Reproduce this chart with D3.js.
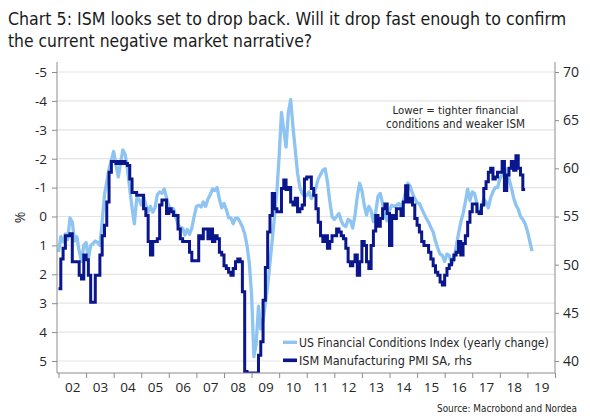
<!DOCTYPE html>
<html><head><meta charset="utf-8">
<script src="https://cdn.jsdelivr.net/npm/d3@7"></script>
<style>
html,body{margin:0;padding:0;background:#fff;}
svg{display:block;font-family:Lato,"Open Sans",sans-serif;}
</style></head><body>
<svg id="chart" width="590" height="418"></svg>
<script>
// ---------------- data ----------------
const titleLines = ["Chart 5: ISM looks set to drop back. Will it drop fast enough to confirm",
                    "the current negative market narrative?"];
const startYear = 2002; // monthly series start (Jan 2002)
// US Financial Conditions Index (yearly change), monthly, Jan 2002 - Mar 2019 (left, inverted)
const fciValues = [
  1.23, 0.7, 0.88, 0.6, 0.8, 0.05, 0.19, 0.85, 0.7, 1.2, 1.55, 1.0,
  0.9, 1.46, 1.0, 0.94, 0.85, 0.9, 1.0, 0.2, -0.75, -1.2, -1.65, -1.95,
  -2.25, -1.8, -1.37, -1.85, -2.3, -2.15, -1.65, -0.95, -0.3, 0.25, -0.62, -0.6,
  -0.4, -0.7, -0.4, -0.15, -0.35, -0.15, -0.3, -0.75, -0.85, -0.8, -0.95, -0.65,
  -0.35, -0.25, -0.27, 0.0, 0.28, 0.38, 0.4, 0.64, 0.45, 0.62, 0.4, 0.0,
  -0.35, -0.39, -0.33, -0.5, -0.35, -0.6, -0.75, -0.95, -0.9, -1.0, -0.6, -0.3,
  -0.45, -0.25, 0.05, 0.05, 0.25, 0.06, 0.06, 0.19, 0.36, 0.6, 1.0, 1.6,
  2.7, 4.85, 4.4, 3.1, 3.9, 3.6, 3.0, 2.4, 1.6, 0.8, -0.05, -0.85,
  -2.1, -3.6, -3.0, -2.4, -3.6, -4.05, -3.1, -2.3, -1.5, -1.0, -0.8, -0.7,
  -0.73, -0.85, -0.62, -0.75, -1.0, -1.3, -1.45, -1.6, -1.65, -1.2, -0.55, 0.0,
  0.1, 0.0, -0.1, 0.15, 0.3, 0.35, 0.1, 0.15, 0.4, -0.05, -0.7, -1.15,
  -0.9, -0.4, -0.05, -0.35, -0.2, 0.18, -0.15, -0.7, -0.8, -0.45, -0.04, 0.15,
  -0.2, -0.39, -0.35, -0.38, -0.45, -0.35, -0.5, -0.85, -1.15, -1.05, -0.8, -0.62,
  -0.48, -0.45, -0.27, -0.1, 0.06, 0.2, 0.38, 0.54, 0.85, 1.1, 1.3, 1.35,
  1.55, 1.3, 1.35, 1.65, 1.5, 1.05, 0.6, 0.2, -0.1, -0.5, -0.95, -0.55,
  -0.85, -0.8, -0.45, -0.1, -0.3, -0.6, -0.5, -0.3, -0.65, -0.85, -1.0, -1.0,
  -1.3, -1.45, -1.65, -1.65, -1.3, -1.0, -0.65, -0.4, -0.25, 0.0, 0.1, 0.25,
  0.5, 0.85, 1.2
];
// ISM Manufacturing PMI SA, monthly, Jan 2002 - Nov 2018 (right axis)
const ismValues = [
  47.5, 50.6, 51.7, 53.0, 53.0, 53.2, 50.3, 50.3, 50.3, 48.9, 48.5, 51.0,
  50.5, 48.9, 46.1, 46.1, 48.9, 48.9, 51.0, 53.0, 54.1, 56.5, 59.6, 60.7,
  60.7, 60.5, 60.7, 60.5, 60.7, 60.5, 60.3, 58.9, 57.5, 57.5, 57.2, 57.2,
  57.2, 55.8, 55.1, 52.4, 51.0, 52.4, 52.4, 52.7, 56.2, 56.7, 56.7, 55.3,
  55.8, 55.5, 55.1, 55.1, 53.7, 52.7, 52.4, 52.4, 52.4, 51.3, 50.4, 50.4,
  50.4, 53.0, 52.7, 53.7, 53.7, 52.7, 53.7, 52.4, 53.0, 52.7, 51.3, 51.0,
  49.9, 49.6, 49.2, 48.9, 49.6, 50.3, 50.6, 50.3, 47.2, 38.9, 36.2, 33.1,
  35.6, 35.8, 36.3, 40.6, 42.0, 46.3, 49.7, 53.4, 55.1, 57.4, 55.8, 55.5,
  55.5, 57.9, 58.8, 57.8, 58.0, 56.5, 56.2, 56.9, 55.5, 55.8, 56.2, 58.9,
  59.1, 59.1, 57.9, 57.2, 55.8, 54.4, 53.0, 52.4, 53.0, 51.7, 52.4, 53.0,
  53.0, 53.7, 53.4, 53.0, 52.7, 51.7, 50.3, 49.9, 50.3, 51.0, 48.9, 50.3,
  52.4, 52.0, 50.3, 49.6, 52.0, 53.5, 55.1, 54.0, 54.8, 55.8, 56.3, 55.3,
  52.0, 55.1, 54.8, 55.8, 55.8, 55.1, 56.5, 58.2, 56.5, 56.9, 56.2, 54.8,
  54.1, 53.4, 52.4, 52.0, 52.0, 51.3, 50.6, 49.9, 49.2, 48.9, 48.2, 47.9,
  48.9, 49.6, 50.0, 50.5, 51.0, 51.3, 52.4, 51.0, 52.2, 53.0, 54.4, 55.5,
  56.3, 56.3, 55.5, 55.3, 56.2, 57.9, 58.6, 59.6, 60.0, 58.9, 59.1, 59.6,
  59.6, 60.7, 57.7, 59.3, 60.0, 60.7, 59.8, 61.3, 60.0, 59.3, 57.8
];
const yearTicks = d3.range(2002, 2021);
const yearLabels = ["02","03","04","05","06","07","08","09","10","11","12","13","14","15","16","17","18","19"];
const leftTicks = [-5,-4,-3,-2,-1,0,1,2,3,4,5];
const rightTicks = [40,45,50,55,60,65,70];
const seriesNames = ["US Financial Conditions Index (yearly change)", "ISM Manufacturing PMI SA, rhs"];
const noteLines = ["Lower = tighter financial", "conditions and weaker ISM"];
const leftLabel = "%";
const sourceText = "Source: Macrobond and Nordea";

// ---------------- layout ----------------
const W = 590, H = 418;
const plot = {left: 57, right: 555, top: 62, bottom: 373};
const colLight = "#8ec4f1", colDark = "#0a168c";
const textCol = "#262626", axisCol = "#8c8c8c", gridCol = "#e4e4e4";
const narrowFont = "'Liberation Sans Narrow','Arial Narrow','DejaVu Sans Condensed',Lato,sans-serif";
const tickFont = "'Open Sans',Lato,sans-serif";

const svg = d3.select("#chart");
svg.append("rect").attr("width", W).attr("height", H).attr("fill", "#fff");

const x = d3.scaleLinear().domain([2002, 2020]).range([58.5, plot.right]);
const yL = d3.scaleLinear().domain([-5, 5]).range([72, 361]);
const yR = d3.scaleLinear().domain([70, 40]).range([72, 361]);
const ismFloor = yR.invert(plot.bottom);

// shrink the font (never grow) so the natural width fits the target width
function fitSize(sel, target, base) {
  sel.attr("font-size", base);
  const w = sel.node().getComputedTextLength();
  if (w > target) sel.attr("font-size", (base * target / w).toFixed(2));
  return sel;
}

// title
titleLines.forEach((t, i) => {
  fitSize(svg.append("text").attr("x", 8).attr("y", 25 + i * 22)
    .attr("font-family", narrowFont).attr("fill", "#1a1a1a").text(t), i === 0 ? 558 : 304, 19.5);
});

// gridlines
svg.append("g").selectAll("line").data(leftTicks).join("line")
  .attr("x1", plot.left).attr("x2", plot.right)
  .attr("y1", d => yL(d)).attr("y2", d => yL(d))
  .attr("stroke", gridCol).attr("stroke-width", 1.2);

// clip
svg.append("clipPath").attr("id", "clip").append("rect")
  .attr("x", plot.left).attr("y", plot.top)
  .attr("width", plot.right - plot.left).attr("height", plot.bottom - plot.top);

const fci = fciValues.map((v, i) => ({t: startYear + i / 12, v}));
const ism = ismValues.map((v, i) => ({t: startYear + i / 12, v}));
ism.push({t: startYear + ismValues.length / 12, v: ismValues[ismValues.length - 1]});

const gData = svg.append("g").attr("clip-path", "url(#clip)");
gData.append("path").datum(fci)
  .attr("d", d3.line().x(d => x(d.t)).y(d => yL(d.v)).curve(d3.curveLinear))
  .attr("fill", "none").attr("stroke", colLight).attr("stroke-width", 3.3)
  .attr("stroke-linejoin", "round");
gData.append("path").datum(ism)
  .attr("d", d3.line().x(d => x(d.t)).y(d => yR(Math.max(d.v, ismFloor))).curve(d3.curveStepAfter))
  .attr("fill", "none").attr("stroke", colDark).attr("stroke-width", 3);

// axes lines
const gAx = svg.append("g").attr("stroke", axisCol).attr("stroke-width", 1);
gAx.append("line").attr("x1", plot.left).attr("x2", plot.left).attr("y1", plot.top).attr("y2", plot.bottom);
gAx.append("line").attr("x1", plot.right).attr("x2", plot.right).attr("y1", plot.top).attr("y2", plot.bottom);
gAx.append("line").attr("x1", plot.left).attr("x2", plot.right).attr("y1", plot.bottom).attr("y2", plot.bottom);

// left axis
const la = svg.append("g").attr("transform", `translate(${plot.left},0)`)
  .call(d3.axisLeft(yL).tickValues(leftTicks).tickSize(5).tickPadding(5).tickFormat(d => String(d)));
// right axis
const ra = svg.append("g").attr("transform", `translate(${plot.right},0)`)
  .call(d3.axisRight(yR).tickValues(rightTicks).tickSize(4).tickPadding(4).tickFormat(d => String(d)));
// bottom ticks
const ba = svg.append("g").attr("transform", `translate(0,${plot.bottom})`)
  .call(d3.axisBottom(x).tickValues(yearTicks).tickSize(5).tickFormat(""));
// bottom labels at mid-year
const bl = svg.append("g").attr("transform", `translate(0,${plot.bottom})`)
  .call(d3.axisBottom(x).tickValues(yearLabels.map((_, i) => 2002.5 + i)).tickSize(0).tickPadding(9)
    .tickFormat((d, i) => yearLabels[i]));
[la, ra, ba, bl].forEach(g => {
  g.select(".domain").remove();
  g.selectAll(".tick line").attr("stroke", axisCol);
  g.selectAll("text").attr("fill", textCol).attr("font-family", tickFont).attr("font-size", 14);
});
la.selectAll("text").attr("font-size", 13.5);
bl.selectAll("text").attr("font-size", 13.5);

// % label
svg.append("text").attr("transform", "translate(25,217.5) rotate(-90)")
  .attr("text-anchor", "middle").attr("font-family", tickFont).attr("font-size", 14)
  .attr("fill", textCol).text(leftLabel);

// annotation
noteLines.forEach((t, i) => {
  fitSize(svg.append("text").attr("x", 455.5).attr("y", 113.5 + i * 14)
    .attr("text-anchor", "middle").attr("font-family", narrowFont).attr("fill", textCol).text(t),
    i === 0 ? 126 : 139, 13);
});

// legend
svg.append("rect").attr("x", 280).attr("y", 334).attr("width", 273).attr("height", 37).attr("fill", "#fff");
const legCols = [colLight, colDark];
const legW = [250, 173];
seriesNames.forEach((n, i) => {
  const cy = 342.3 + i * 18;
  svg.append("line").attr("x1", 283).attr("x2", 297).attr("y1", cy).attr("y2", cy)
    .attr("stroke", legCols[i]).attr("stroke-width", i === 0 ? 3.3 : 3.6);
  fitSize(svg.append("text").attr("x", 299).attr("y", cy + 4.8)
    .attr("font-family", narrowFont).attr("fill", textCol).text(n), legW[i], 14.5);
});

// source
fitSize(svg.append("text").attr("x", 577).attr("y", 412).attr("text-anchor", "end")
  .attr("font-family", narrowFont).attr("fill", textCol).text(sourceText), 140, 12);
</script>
</body></html>
